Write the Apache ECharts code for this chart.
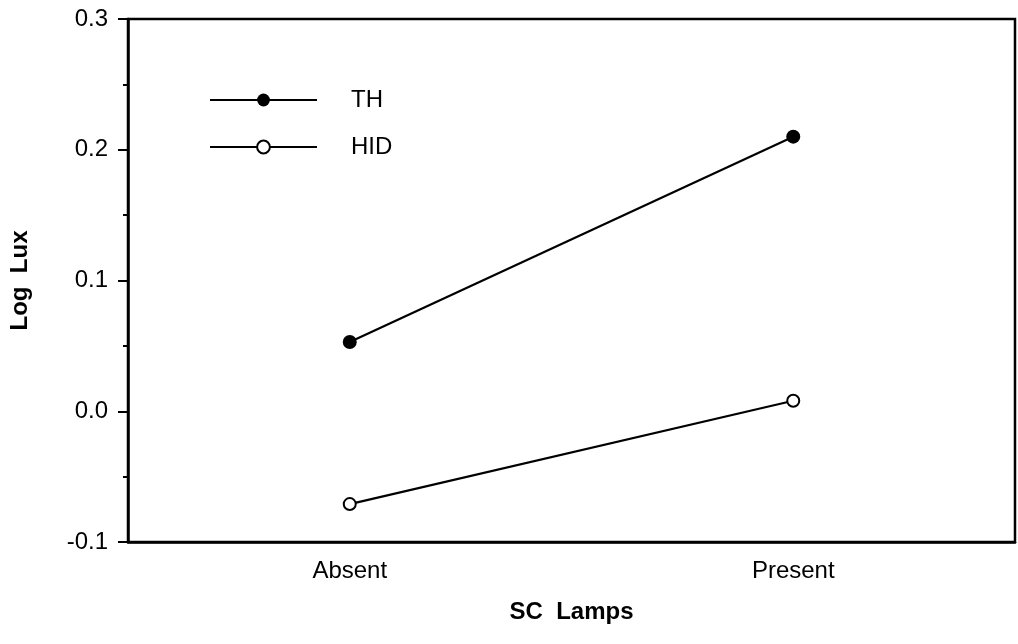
<!DOCTYPE html>
<html>
<head>
<meta charset="UTF-8">
<title>Log Lux vs SC Lamps</title>
<script type="text/javascript" src="https://cdn.jsdelivr.net/npm/echarts@6/dist/echarts.min.js"></script>
</head>
<body style="margin:0">
<div id="main" style="width:1018px;height:644px"></div>
<script type="text/javascript">
// values
var categories = ['Absent', 'Present'];
var thValues = [0.053, 0.210];
var hidValues = [-0.071, 0.008];
var seriesNames = ['TH', 'HID'];

var fontFam = '"Liberation Sans", Arial, Helvetica, sans-serif';
var myChart = echarts.init(document.getElementById('main'));

var option = {
    backgroundColor: '#ffffff',
    animation: false,
    grid: {
        left: 128, right: 3, top: 19, bottom: 102,
        show: true,
        borderColor: '#000',
        borderWidth: 2.5
    },
    legend: {
        orient: 'vertical',
        left: 204,
        top: 83,
        itemWidth: 107,
        itemHeight: 16,
        itemGap: 23,
        data: seriesNames,
        textStyle: {
            fontFamily: fontFam,
            fontSize: 24,
            color: '#000',
            padding: [0, 0, 0, 29]
        }
    },
    xAxis: {
        type: 'category',
        data: categories,
        boundaryGap: true,
        name: 'SC  Lamps',
        nameLocation: 'middle',
        nameGap: 58,
        nameTextStyle: { fontFamily: fontFam, fontSize: 24, fontWeight: 'bold', color: '#000' },
        axisLine: { onZero: false, lineStyle: { color: '#000', width: 2.5 } },
        axisTick: { alignWithLabel: true, length: 11, lineStyle: { color: '#000', width: 2 } },
        axisLabel: { fontFamily: fontFam, fontSize: 24, color: '#000', margin: 17 },
        splitLine: { show: false }
    },
    yAxis: {
        type: 'value',
        min: -0.1,
        max: 0.3,
        interval: 0.1,
        name: 'Log  Lux',
        nameLocation: 'middle',
        nameGap: 96,
        nameTextStyle: { fontFamily: fontFam, fontSize: 24, fontWeight: 'bold', color: '#000' },
        axisLine: { show: true, lineStyle: { color: '#000', width: 2.5 } },
        axisTick: { show: true, length: 10, lineStyle: { color: '#000', width: 2 } },
        minorTick: { show: true, splitNumber: 2, length: 5, lineStyle: { color: '#000', width: 2 } },
        axisLabel: {
            fontFamily: fontFam, fontSize: 24, color: '#000', margin: 20,
            formatter: function (v) { return v.toFixed(1); }
        },
        splitLine: { show: false }
    },
    series: [
        {
            name: seriesNames[0],
            type: 'line',
            data: thValues,
            symbol: 'circle',
            symbolSize: 14,
            itemStyle: { color: '#000' },
            lineStyle: { color: '#000', width: 2.2 }
        },
        {
            name: seriesNames[1],
            type: 'line',
            data: hidValues,
            symbol: 'emptyCircle',
            symbolSize: 12,
            itemStyle: { color: '#000', borderWidth: 2.2 },
            lineStyle: { color: '#000', width: 2.2 }
        }
    ]
};

myChart.setOption(option);
</script>
</body>
</html>
